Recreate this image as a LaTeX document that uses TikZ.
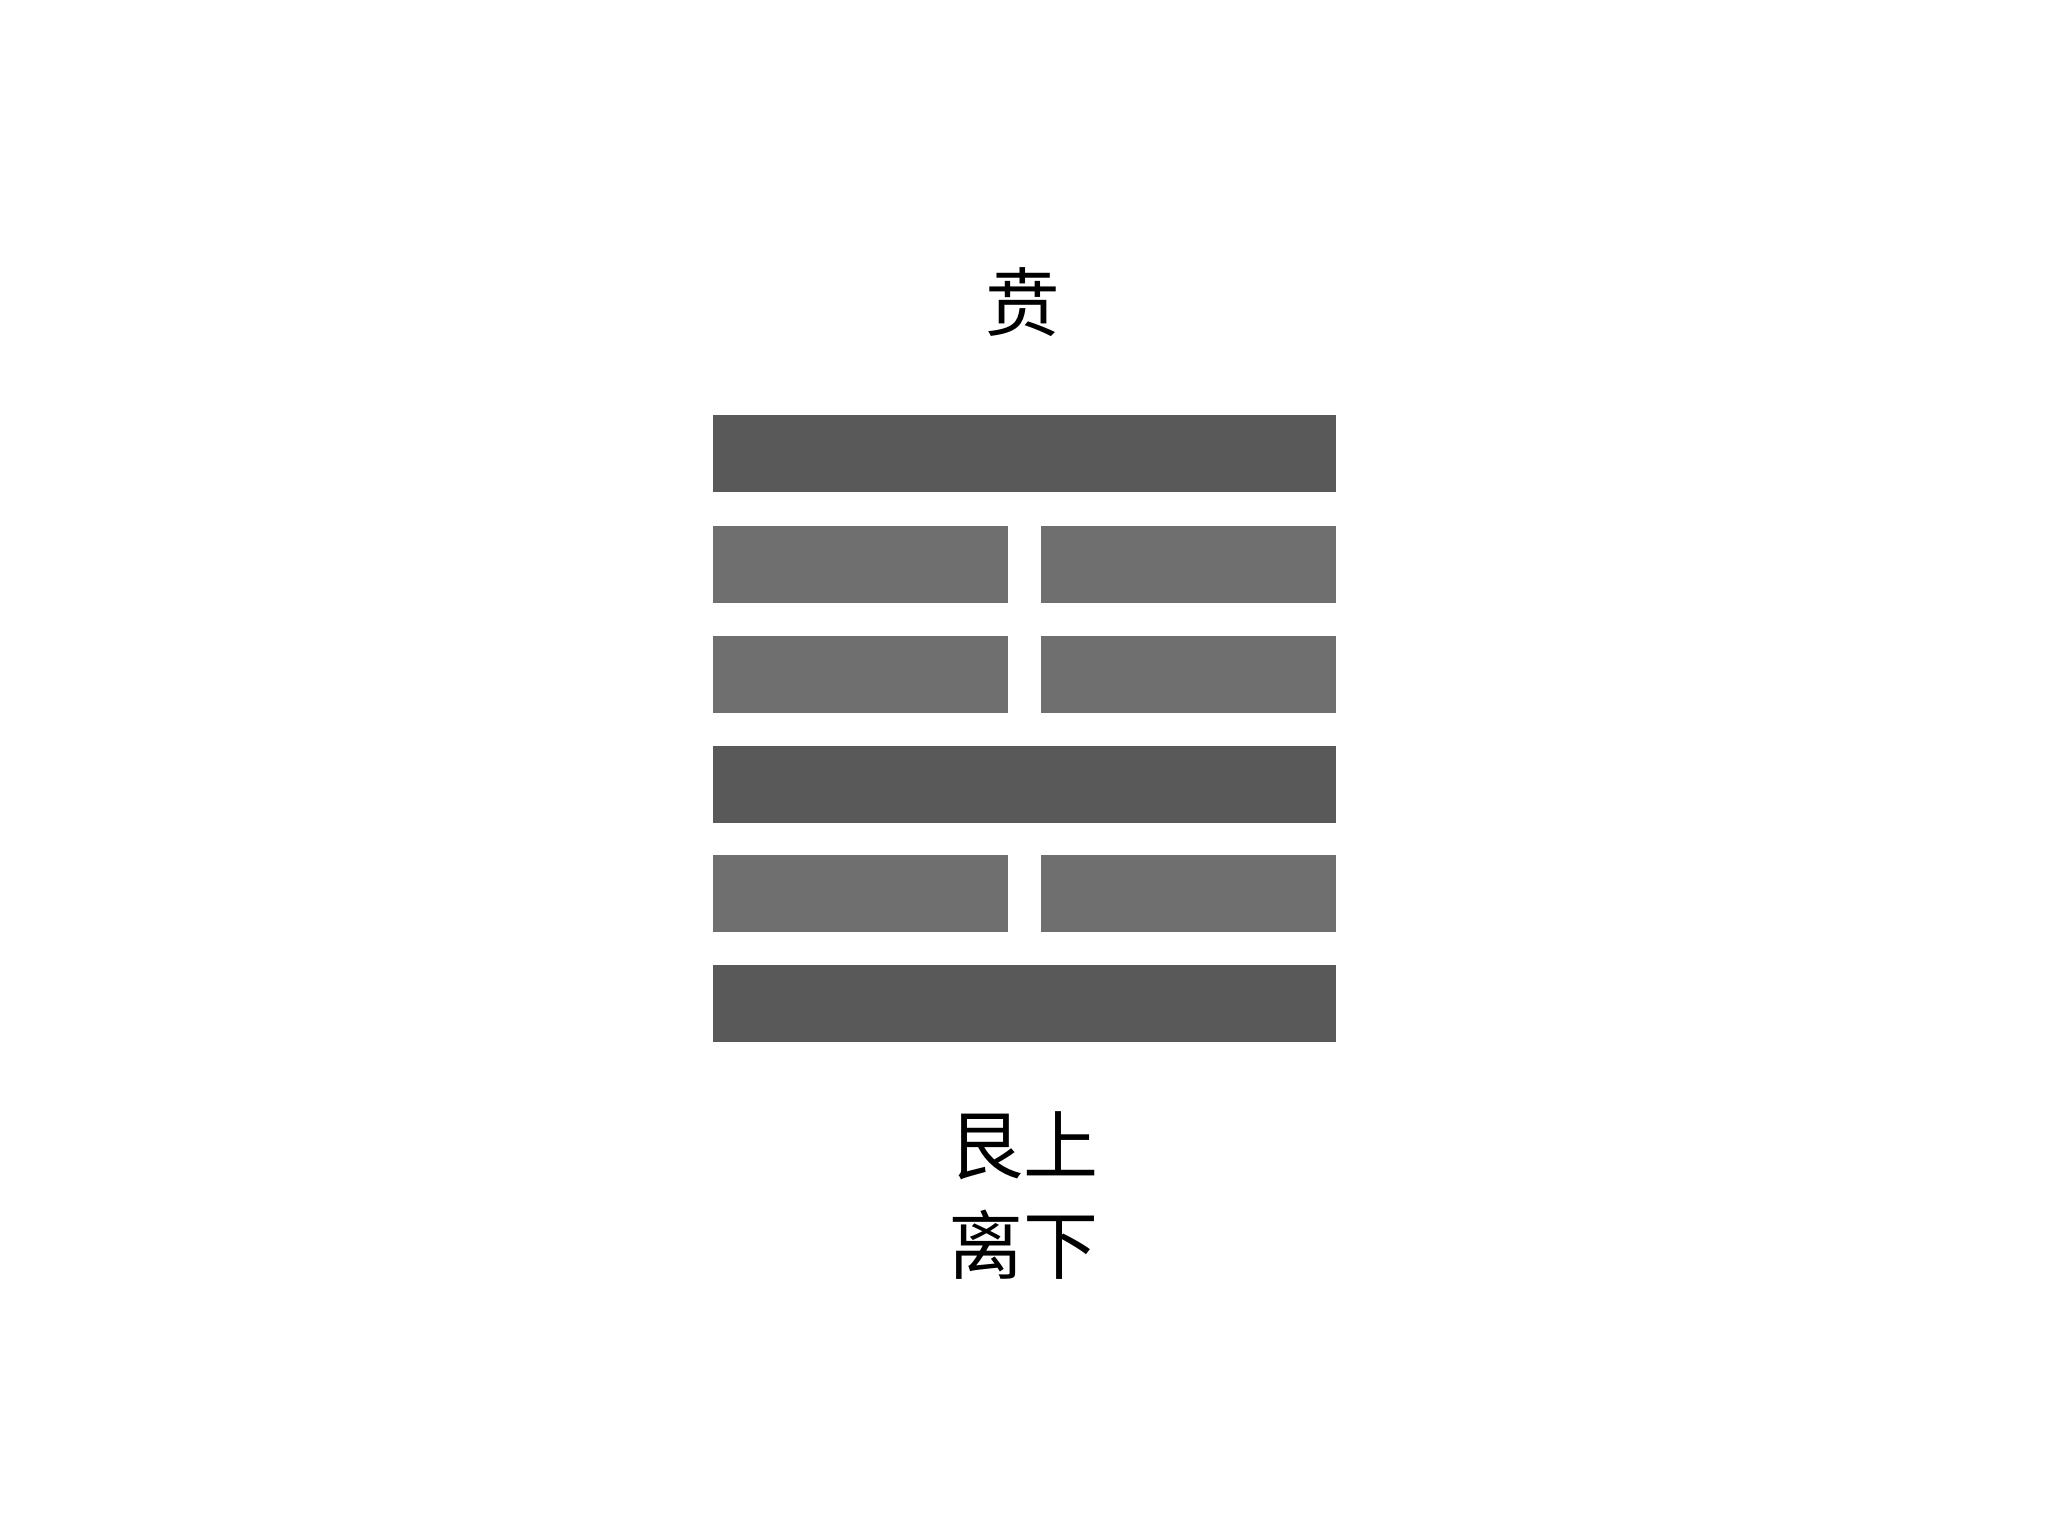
\documentclass[tikz,border=0pt]{standalone}
\usepackage{fontspec}
\newfontfamily\cjk{Noto Sans CJK SC}
\definecolor{yangc}{HTML}{5A595A}
\definecolor{yinc}{HTML}{706F70}
\begin{document}
\begin{tikzpicture}[x=1pt,y=-1pt,
  yang/.style={fill=yangc,draw=none,minimum width=623pt,minimum height=77pt,inner sep=0pt,anchor=center},
  yin/.style={fill=yinc,draw=none,minimum width=295pt,minimum height=77pt,inner sep=0pt,anchor=center},
  lbl/.style={font=\cjk\fontsize{75pt}{90pt}\selectfont,inner sep=0pt,anchor=base}]
\useasboundingbox[fill=white] (0,0) rectangle (2048,1536);
\node[lbl] (title) at (1023,330) {贲};
\node[yang] (l6) at (1024.5,453.5) {};
\node[yin] (l5a) at (860,564.5) {};
\node[yin] (l5b) at (1188.5,564.5) {};
\node[yin] (l4a) at (860,674.5) {};
\node[yin] (l4b) at (1188.5,674.5) {};
\node[yang] (l3) at (1024.5,784.5) {};
\node[yin] (l2a) at (860,893.5) {};
\node[yin] (l2b) at (1188.5,893.5) {};
\node[yang] (l1) at (1024.5,1003.5) {};
\node[lbl] (upper) at (1023,1173) {艮上};
\node[lbl] (lower) at (1023,1273) {离下};
\end{tikzpicture}
\end{document}
